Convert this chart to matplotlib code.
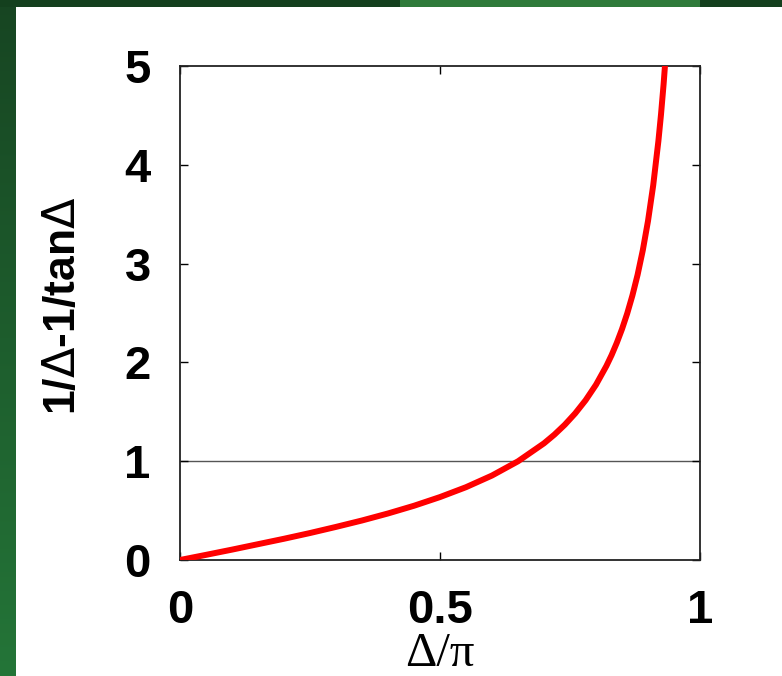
import numpy as np
import matplotlib
matplotlib.use("Agg")
import matplotlib.pyplot as plt

# values (x = Delta/pi, y = 1/Delta - 1/tan Delta)
x_vals = [0.0, 0.05, 0.10, 0.15, 0.20, 0.25, 0.30, 0.35, 0.40, 0.45,
          0.50, 0.55, 0.60, 0.65, 0.70, 0.72, 0.74, 0.76, 0.78, 0.80,
          0.82, 0.83, 0.84, 0.85, 0.86, 0.87, 0.88, 0.89, 0.90, 0.91,
          0.92, 0.925, 0.93, 0.935]
y_vals = [0.0, 0.052, 0.105, 0.160, 0.215, 0.273, 0.335, 0.400, 0.471, 0.549,
          0.637, 0.737, 0.855, 0.999, 1.181, 1.269, 1.369, 1.484, 1.617, 1.774,
          1.964, 2.074, 2.198, 2.337, 2.495, 2.677, 2.887, 3.135, 3.431, 3.792,
          4.241, 4.509, 4.816, 5.169]
x_ticks = [0, 0.5, 1]
x_ticklabels = ["0", "0.5", "1"]
y_ticks = [0, 1, 2, 3, 4, 5]
ref_level = 1

W, H = 782, 676
fig = plt.figure(figsize=(W / 100, H / 100), dpi=100)
fig.patch.set_facecolor("white")

# green slide border (left strip + top strip)
bg = np.zeros((H, W, 4))
top = np.array([0x17, 0x45, 0x22]) / 255
bot = np.array([0x24, 0x75, 0x38]) / 255
t = np.linspace(0, 1, H)[:, None]
bg[:, :16, :3] = (top * (1 - t) + bot * t)[:, None, :]
bg[:, :16, 3] = 1
bg[:7, :, :3] = np.array([0x14, 0x40, 0x1e]) / 255
bg[:7, 400:700, :3] = np.array([0x2f, 0x7a, 0x3a]) / 255
bg[:7, :, 3] = 1
fig.figimage(bg, xo=0, yo=0, origin="upper", zorder=-1)

ax = fig.add_axes([180 / W, 116 / H, 520 / W, 494 / H])
ax.axhline(ref_level, color="#555555", lw=1.0, zorder=1)
ax.plot(x_vals, y_vals, color="red", lw=4.3, solid_capstyle="butt", zorder=3)

ax.set_xlim(0, 1)
ax.set_ylim(0, 5)
ax.set_xticks(x_ticks)
ax.set_xticklabels(x_ticklabels)
ax.set_yticks(y_ticks)
ax.tick_params(direction="in", length=6, width=1.0, top=True, right=True,
               labelsize=34, pad=21, colors="black")
for lab in ax.get_xticklabels() + ax.get_yticklabels():
    lab.set_fontfamily("Liberation Sans")
    lab.set_fontweight("bold")
for s in ax.spines.values():
    s.set_linewidth(1.3)
    s.set_color("#222222")

ax.set_ylabel(r"1/$\Delta$-1/tan$\Delta$", fontsize=32, fontweight="bold",
              family="Liberation Sans")
ax.yaxis.set_label_coords(-0.185, 0.515)
ax.set_xlabel("\u0394/\u03c0", fontsize=35, family="Liberation Serif")
ax.xaxis.set_label_coords(0.5, -0.146)

fig.savefig("out.png", dpi=100)
